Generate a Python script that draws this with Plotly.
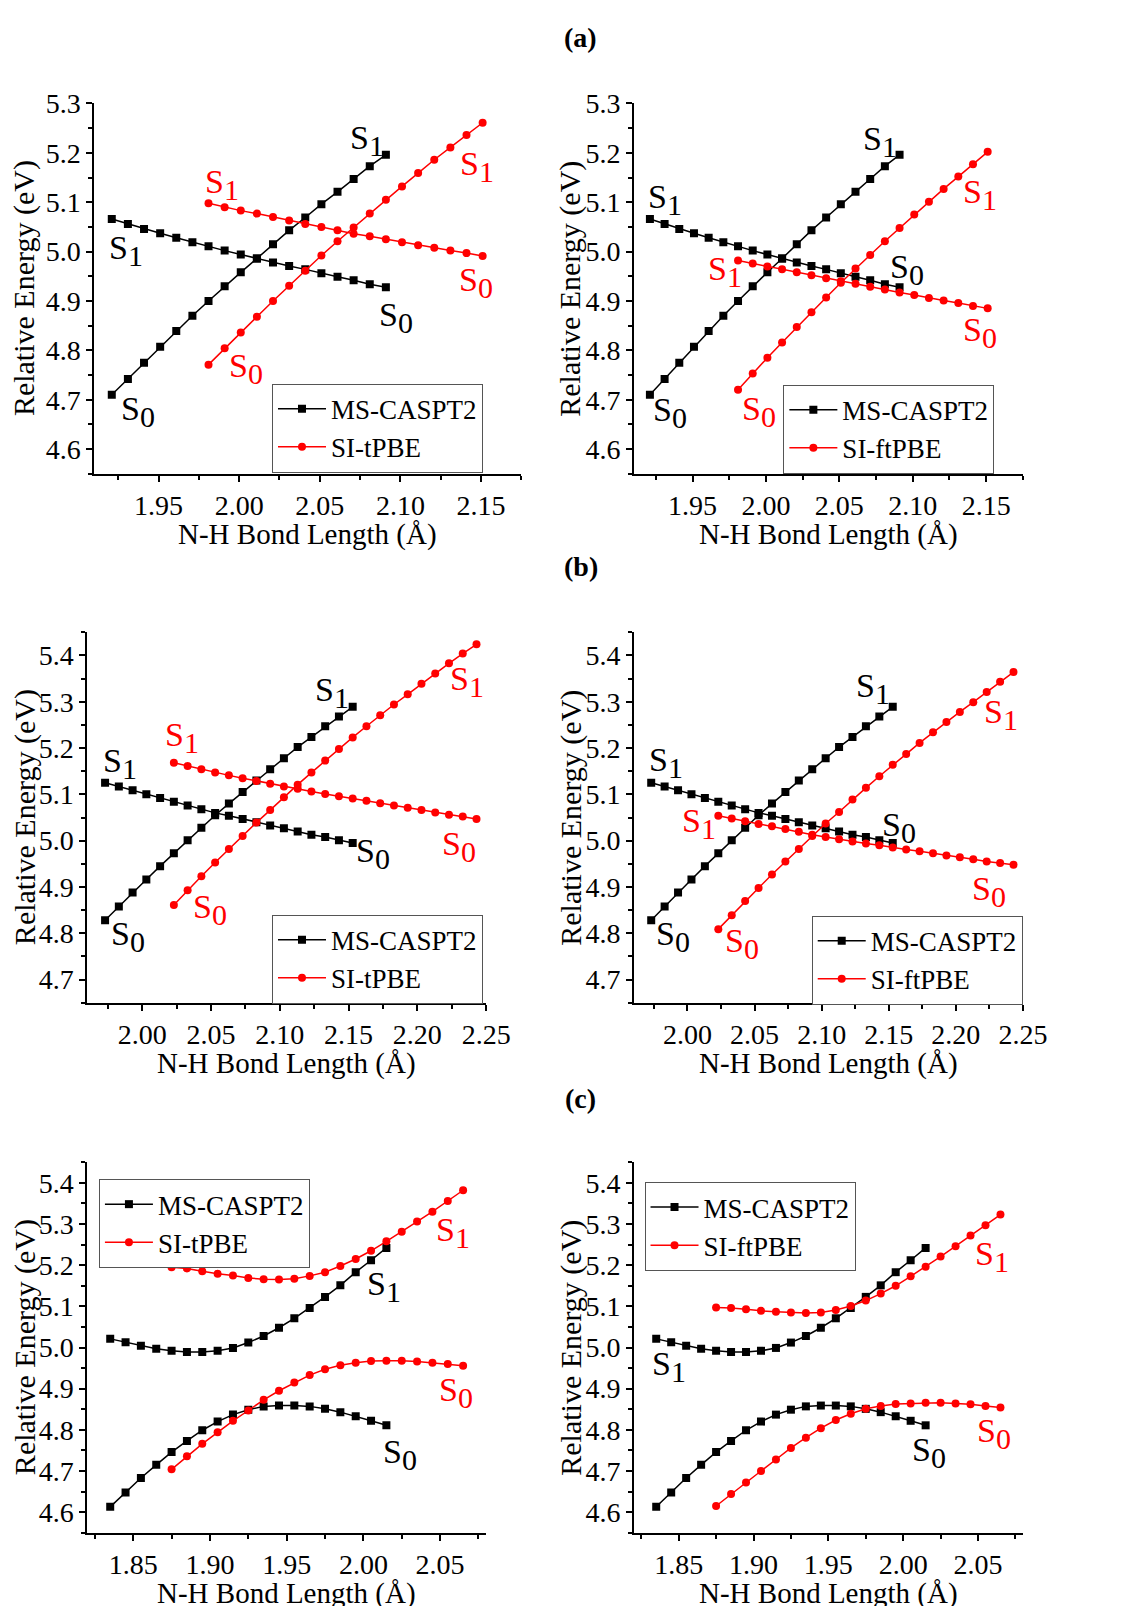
import plotly.graph_objects as go

FONT = "Liberation Serif"
W, H = 1124, 1606
OFF = 8  # the page body adds an 8 px margin; positions below are page pixels

# ---------------- data: panel (a) ----------------
a_x_cas = [1.921, 1.931, 1.941, 1.951, 1.961, 1.971, 1.981, 1.991, 2.001, 2.011,
           2.021, 2.031, 2.041, 2.051, 2.061, 2.071, 2.081, 2.091]
a_x_dft = [1.981, 1.991, 2.001, 2.011, 2.021, 2.031, 2.041, 2.051, 2.061, 2.071,
           2.081, 2.091, 2.101, 2.111, 2.121, 2.131, 2.141, 2.151]
a_cas_rise = [4.710, 4.742, 4.775, 4.807, 4.839, 4.870, 4.900, 4.930, 4.958, 4.986,
              5.015, 5.043, 5.069, 5.096, 5.121, 5.147, 5.173, 5.196]
a_cas_fall = [5.066, 5.056, 5.046, 5.037, 5.028, 5.019, 5.011, 5.002, 4.994, 4.986,
              4.978, 4.971, 4.964, 4.956, 4.949, 4.942, 4.934, 4.928]
a_tpbe_rise = [4.771, 4.804, 4.836, 4.868, 4.900, 4.931, 4.961, 4.992, 5.021, 5.049,
               5.077, 5.105, 5.132, 5.159, 5.186, 5.211, 5.236, 5.261]
a_tpbe_fall = [5.098, 5.090, 5.083, 5.077, 5.070, 5.063, 5.056, 5.050, 5.043, 5.036,
               5.031, 5.025, 5.019, 5.013, 5.008, 5.002, 4.997, 4.991]
a_ftpbe_rise = [4.720, 4.753, 4.785, 4.816, 4.847, 4.877, 4.907, 4.937, 4.966, 4.993,
                5.021, 5.048, 5.075, 5.101, 5.127, 5.152, 5.177, 5.202]
a_ftpbe_fall = [4.982, 4.976, 4.970, 4.964, 4.958, 4.952, 4.946, 4.940, 4.935, 4.929,
                4.923, 4.917, 4.912, 4.906, 4.901, 4.896, 4.890, 4.885]

# ---------------- data: panel (b) ----------------
b_x_cas = [1.973, 1.983, 1.993, 2.003, 2.013, 2.023, 2.033, 2.043, 2.053, 2.063,
           2.073, 2.083, 2.093, 2.103, 2.113, 2.123, 2.133, 2.143, 2.153]
b_x_dft = [2.023, 2.033, 2.043, 2.053, 2.063, 2.073, 2.083, 2.093, 2.103, 2.113,
           2.123, 2.133, 2.143, 2.153, 2.163, 2.173, 2.183, 2.193, 2.203, 2.213,
           2.223, 2.233, 2.243]
b_cas_rise = [4.828, 4.858, 4.888, 4.916, 4.945, 4.973, 5.001, 5.028, 5.055, 5.080,
              5.105, 5.130, 5.154, 5.178, 5.202, 5.224, 5.247, 5.268, 5.289]
b_cas_fall = [5.125, 5.117, 5.109, 5.100, 5.092, 5.084, 5.076, 5.068, 5.060, 5.054,
              5.047, 5.040, 5.033, 5.027, 5.020, 5.013, 5.008, 5.001, 4.995]
b_tpbe_rise = [4.861, 4.893, 4.923, 4.953, 4.982, 5.010, 5.039, 5.066, 5.094, 5.121,
               5.147, 5.173, 5.198, 5.223, 5.247, 5.271, 5.294, 5.316, 5.339, 5.361,
               5.383, 5.404, 5.424]
b_tpbe_fall = [5.168, 5.161, 5.154, 5.147, 5.141, 5.135, 5.129, 5.123, 5.117, 5.112,
               5.106, 5.101, 5.096, 5.091, 5.086, 5.081, 5.076, 5.071, 5.066, 5.061,
               5.056, 5.052, 5.047]
b_ftpbe_rise = [4.809, 4.839, 4.870, 4.898, 4.927, 4.955, 4.982, 5.010, 5.037, 5.062,
                5.089, 5.114, 5.139, 5.164, 5.187, 5.211, 5.234, 5.256, 5.278, 5.299,
                5.321, 5.343, 5.364]
b_ftpbe_fall = [5.054, 5.048, 5.042, 5.036, 5.031, 5.025, 5.019, 5.013, 5.008, 5.003,
                4.998, 4.994, 4.990, 4.985, 4.981, 4.977, 4.973, 4.968, 4.964, 4.960,
                4.955, 4.952, 4.948]

# ---------------- data: panel (c) ----------------
c_x_cas = [1.835, 1.845, 1.855, 1.865, 1.875, 1.885, 1.895, 1.905, 1.915, 1.925,
           1.935, 1.945, 1.955, 1.965, 1.975, 1.985, 1.995, 2.005, 2.015]
c_x_dft = [1.875, 1.885, 1.895, 1.905, 1.915, 1.925, 1.935, 1.945, 1.955, 1.965,
           1.975, 1.985, 1.995, 2.005, 2.015, 2.025, 2.035, 2.045, 2.055, 2.065]
c_cas_s0 = [4.613, 4.648, 4.683, 4.715, 4.746, 4.773, 4.799, 4.820, 4.837, 4.849,
            4.857, 4.859, 4.859, 4.857, 4.851, 4.843, 4.833, 4.822, 4.811]
c_cas_s1 = [5.021, 5.013, 5.004, 4.997, 4.992, 4.989, 4.989, 4.992, 4.999, 5.012,
            5.028, 5.048, 5.071, 5.096, 5.123, 5.151, 5.183, 5.212, 5.242]
c_tpbe_s0 = [4.704, 4.736, 4.766, 4.794, 4.822, 4.847, 4.873, 4.895, 4.915, 4.933,
             4.947, 4.957, 4.963, 4.967, 4.968, 4.968, 4.966, 4.963, 4.960, 4.956]
c_tpbe_s1 = [5.195, 5.192, 5.185, 5.179, 5.175, 5.169, 5.166, 5.165, 5.167, 5.174,
             5.183, 5.198, 5.215, 5.235, 5.258, 5.281, 5.306, 5.330, 5.356, 5.382]
c_ftpbe_s0 = [4.615, 4.644, 4.672, 4.700, 4.728, 4.756, 4.781, 4.804, 4.824, 4.839,
              4.851, 4.858, 4.863, 4.864, 4.866, 4.866, 4.864, 4.862, 4.858, 4.854]
c_ftpbe_s1 = [5.097, 5.096, 5.093, 5.089, 5.087, 5.085, 5.084, 5.085, 5.091, 5.101,
              5.114, 5.131, 5.150, 5.173, 5.196, 5.221, 5.246, 5.272, 5.297, 5.323]

# state labels: (x, y, state index, colour key) per panel
a_left_labels = [(2.0795, 5.226, 1, "k"), (1.930, 5.002, 1, "k"), (1.937, 4.677, 0, "k"),
                 (2.097, 4.867, 0, "k"), (1.9896, 5.136, 1, "r"), (2.1478, 5.173, 1, "r"),
                 (2.0041, 4.764, 0, "r"), (2.1468, 4.938, 0, "r")]
a_right_labels = [(2.078, 5.223, 1, "k"), (1.931, 5.106, 1, "k"), (1.935, 4.674, 0, "k"),
                  (2.096, 4.964, 0, "k"), (1.972, 4.959, 1, "r"), (2.146, 5.116, 1, "r"),
                  (1.995, 4.677, 0, "r"), (2.1455, 4.837, 0, "r")]
b_left_labels = [(2.138, 5.319, 1, "k"), (1.984, 5.166, 1, "k"), (1.990, 4.793, 0, "k"),
                 (2.168, 4.972, 0, "k"), (2.029, 5.222, 1, "r"), (2.236, 5.344, 1, "r"),
                 (2.049, 4.851, 0, "r"), (2.230, 4.988, 0, "r")]
b_right_labels = [(2.138, 5.329, 1, "k"), (1.984, 5.168, 1, "k"), (1.989, 4.793, 0, "k"),
                  (2.158, 5.029, 0, "k"), (2.0085, 5.0375, 1, "r"), (2.234, 5.272, 1, "r"),
                  (2.041, 4.779, 0, "r"), (2.2248, 4.890, 0, "r")]
c_left_labels = [(2.0134, 5.148, 1, "k"), (2.024, 4.739, 0, "k"),
                 (2.0587, 5.280, 1, "r"), (2.0602, 4.891, 0, "r")]
c_right_labels = [(1.8437, 4.953, 1, "k"), (2.0174, 4.744, 0, "k"),
                  (2.0591, 5.220, 1, "r"), (2.0609, 4.791, 0, "r")]

COL = {"k": "#000000", "r": "#ff0000"}


def px(x):
    return (x - OFF) / W


def py(y):
    return 1 - (y - OFF) / H


panels = [
    dict(xd=(96, 533), yd=(89, 463), xr=[1.91, 2.175], yr=[4.55, 5.3005],
         xc=a_x_cas, xf=a_x_dft, c1=a_cas_rise, c2=a_cas_fall, d1=a_tpbe_rise, d2=a_tpbe_fall,
         dname="SI-tPBE", labels=a_left_labels, leg=(278, 372), ytx=25),
    dict(xd=(648, 1046), yd=(89, 463), xr=[1.91, 2.175], yr=[4.55, 5.3005],
         xc=a_x_cas, xf=a_x_dft, c1=a_cas_rise, c2=a_cas_fall, d1=a_ftpbe_rise, d2=a_ftpbe_fall,
         dname="SI-ftPBE", labels=a_right_labels, leg=(801, 373), ytx=583),
    dict(xd=(89, 497), yd=(623, 997), xr=[1.96, 2.25], yr=[4.65, 5.45],
         xc=b_x_cas, xf=b_x_dft, c1=b_cas_rise, c2=b_cas_fall, d1=b_tpbe_rise, d2=b_tpbe_fall,
         dname="SI-tPBE", labels=b_left_labels, leg=(278, 908), ytx=25),
    dict(xd=(648, 1046), yd=(623, 997), xr=[1.96, 2.25], yr=[4.65, 5.45],
         xc=b_x_cas, xf=b_x_dft, c1=b_cas_rise, c2=b_cas_fall, d1=b_ftpbe_rise, d2=b_ftpbe_fall,
         dname="SI-ftPBE", labels=b_right_labels, leg=(830, 909), ytx=583),
    dict(xd=(89, 497), yd=(1158, 1532), xr=[1.82, 2.08], yr=[4.55, 5.45],
         xc=c_x_cas, xf=c_x_dft, c1=c_cas_s0, c2=c_cas_s1, d1=c_tpbe_s0, d2=c_tpbe_s1,
         dname="SI-tPBE", labels=c_left_labels, leg=(101, 1175), ytx=25),
    dict(xd=(648, 1046), yd=(1158, 1532), xr=[1.82, 2.08], yr=[4.55, 5.45],
         xc=c_x_cas, xf=c_x_dft, c1=c_cas_s0, c2=c_cas_s1, d1=c_ftpbe_s0, d2=c_ftpbe_s1,
         dname="SI-ftPBE", labels=c_right_labels, leg=(659, 1178), ytx=583),
]

fig = go.Figure()
layout = dict(width=W, height=H, margin=dict(l=0, r=0, t=0, b=0),
              paper_bgcolor="white", plot_bgcolor="white", showlegend=True,
              font=dict(family=FONT, color="black"))
annotations = []

for i, p in enumerate(panels):
    n = i + 1
    xa = "x" if n == 1 else f"x{n}"
    ya = "y" if n == 1 else f"y{n}"
    leg = "legend" if n == 1 else f"legend{n}"
    black = dict(color="#000000", width=1.5)
    red = dict(color="#ff0000", width=1.5)
    sq = dict(symbol="square", size=8, color="#000000")
    ci = dict(symbol="circle", size=8, color="#ff0000")
    fig.add_trace(go.Scatter(x=p["xc"], y=p["c1"], mode="lines+markers", name="MS-CASPT2",
                             line=black, marker=sq, xaxis=xa, yaxis=ya, legend=leg,
                             showlegend=True))
    fig.add_trace(go.Scatter(x=p["xc"], y=p["c2"], mode="lines+markers", name="MS-CASPT2",
                             line=black, marker=sq, xaxis=xa, yaxis=ya, legend=leg,
                             showlegend=False))
    fig.add_trace(go.Scatter(x=p["xf"], y=p["d1"], mode="lines+markers", name=p["dname"],
                             line=red, marker=ci, xaxis=xa, yaxis=ya, legend=leg,
                             showlegend=True))
    fig.add_trace(go.Scatter(x=p["xf"], y=p["d2"], mode="lines+markers", name=p["dname"],
                             line=red, marker=ci, xaxis=xa, yaxis=ya, legend=leg,
                             showlegend=False))

    axis_common = dict(showline=True, linecolor="black", linewidth=1.5, mirror=False,
                       ticks="outside", ticklen=6, tickwidth=1.5, tickcolor="black",
                       showgrid=False, zeroline=False, ticklabelstandoff=0,
                       tickfont=dict(family=FONT, size=28, color="black"))
    layout["xaxis" if n == 1 else f"xaxis{n}"] = dict(
        domain=[px(p["xd"][0]), px(p["xd"][1])], range=p["xr"], anchor=ya,
        dtick=0.05, tick0=0, tickformat=".2f",
        minor=dict(ticks="outside", ticklen=4, tickwidth=1.5, tickcolor="black", dtick=0.025,
                   showgrid=False),
        **axis_common)
    layout["yaxis" if n == 1 else f"yaxis{n}"] = dict(
        domain=[py(p["yd"][1]), py(p["yd"][0])], range=p["yr"], anchor=xa,
        dtick=0.1, tick0=0, tickformat=".1f",
        minor=dict(ticks="outside", ticklen=4, tickwidth=1.5, tickcolor="black", dtick=0.05,
                   showgrid=False),
        **axis_common)
    layout[leg] = dict(x=px(p["leg"][0]), y=py(p["leg"][1]), xanchor="left", yanchor="top",
                       bgcolor="white", bordercolor="#555555", borderwidth=1,
                       font=dict(family=FONT, size=27, color="black"),
                       itemwidth=48, tracegroupgap=0, traceorder="normal")

    # axis titles
    xc = (p["xd"][0] + p["xd"][1]) / 2
    annotations.append(dict(text="N-H Bond Length (Å)", x=px(xc), y=py(p["yd"][1] + 61),
                            xref="paper", yref="paper", xanchor="center", yanchor="middle",
                            showarrow=False, font=dict(family=FONT, size=29, color="black")))
    yc = (p["yd"][0] + p["yd"][1]) / 2
    annotations.append(dict(text="Relative Energy (eV)", x=px(p["ytx"]), y=py(yc),
                            xref="paper", yref="paper", xanchor="center", yanchor="middle",
                            textangle=-90, showarrow=False,
                            font=dict(family=FONT, size=30, color="black")))
    # state labels
    for (lx, ly, st, ck) in p["labels"]:
        annotations.append(dict(
            text=f"S<sub><span style='font-size:30px'>{st}</span></sub>",
            x=lx, y=ly, xref=xa, yref=ya, xanchor="center", yanchor="middle",
            showarrow=False, font=dict(family=FONT, size=34, color=COL[ck])))

# panel headers
for txt, yy in [("(a)", 23), ("(b)", 557), ("(c)", 1094)]:
    annotations.append(dict(text=f"<b>{txt}</b>", x=px(594), y=py(yy), xref="paper",
                            yref="paper", xanchor="center", yanchor="middle", showarrow=False,
                            font=dict(family=FONT, size=28, color="black")))

layout["annotations"] = annotations
fig.update_layout(**layout)
fig.write_html("out.html")
